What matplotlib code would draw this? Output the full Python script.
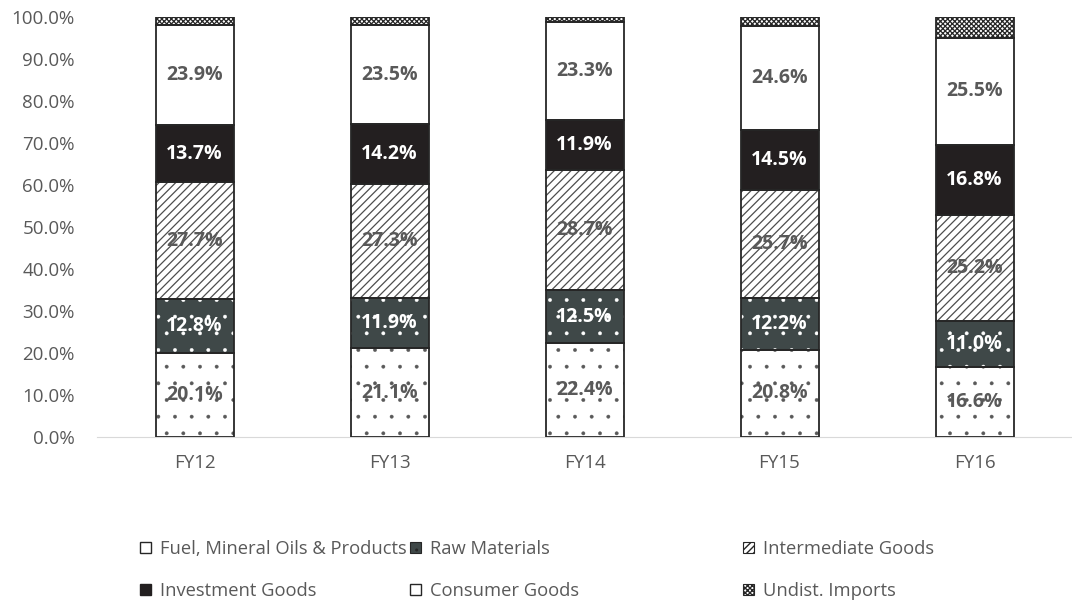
import numpy as np
import matplotlib
matplotlib.use("Agg")
import matplotlib.pyplot as plt
from matplotlib.patches import Patch

plt.rcParams['font.family'] = ['Open Sans', 'DejaVu Sans']

years = ['FY12', 'FY13', 'FY14', 'FY15', 'FY16']
fuel = [20.1, 21.1, 22.4, 20.8, 16.6]
raw = [12.8, 11.9, 12.5, 12.2, 11.0]
intermediate = [27.7, 27.3, 28.7, 25.7, 25.2]
investment = [13.7, 14.2, 11.9, 14.5, 16.8]
consumer = [23.9, 23.5, 23.3, 24.6, 25.5]
undist = [1.8, 2.0, 1.2, 2.2, 4.9]

names = ['Fuel, Mineral Oils & Products', 'Raw Materials', 'Intermediate Goods',
         'Investment Goods', 'Consumer Goods', 'Undist. Imports']
series = [fuel, raw, intermediate, investment, consumer, undist]
# face colour, hatch, hatch colour, hatch width, label colour
styles = [
    ('white', '.', '#595959', 0.3, '#595959'),
    ('#3f4848', '.', 'white', 0.3, 'white'),
    ('white', '////', '#4d4d4d', 0.9, '#595959'),
    ('#231f20', '', '#231f20', 0.5, 'white'),
    ('white', '', 'white', 0.5, '#595959'),
    ('white', 'xxxxxxx', '#262626', 0.9, None),
]
grey = '#595959'

fig = plt.figure(figsize=(10.72, 6.06), dpi=100)
ax = fig.add_axes([97/1072, 1-437/606, 975/1072, 420/606])

x = np.arange(len(years))
w = 0.4
bottom = np.zeros(len(years))
for vals, (fc, hatch, hc, hw, lc) in zip(series, styles):
    vals = np.array(vals)
    with plt.rc_context({'hatch.linewidth': hw}):
        ax.bar(x, vals, w, bottom=bottom, color=fc, hatch=hatch, edgecolor=hc, linewidth=0, zorder=2)
    ax.bar(x, vals, w, bottom=bottom, fill=False, edgecolor='#262626', linewidth=1.3, zorder=3)
    if lc is not None:
        for xi, b, v in zip(x, bottom, vals):
            ax.text(xi, b + v/2, f'{v:.1f}%', ha='center', va='center',
                    fontsize=14, fontweight='bold', color=lc, zorder=4)
    bottom += vals

ax.set_xlim(-0.5, 4.5)
ax.set_ylim(0, 100)
ax.set_yticks(np.arange(0, 101, 10))
ax.set_yticklabels([f'{t:.1f}%' for t in np.arange(0, 101, 10)])
ax.set_xticks(x)
ax.set_xticklabels(years)
ax.tick_params(axis='both', length=0, labelsize=13.5, colors=grey)
ax.tick_params(axis='y', pad=16)
ax.tick_params(axis='x', pad=12)
for s in ['top', 'right', 'left']:
    ax.spines[s].set_visible(False)
ax.spines['bottom'].set_color('#d9d9d9')
ax.spines['bottom'].set_zorder(1)

with plt.rc_context({'hatch.linewidth': 0.6}):
    handles = [
        Patch(facecolor='white', edgecolor='#262626', linewidth=1),
        Patch(facecolor='#3f4848', hatch='..', edgecolor='#262626', linewidth=0.8),
        Patch(facecolor='white', hatch='/////', edgecolor='#262626', linewidth=0.8),
        Patch(facecolor='#231f20', edgecolor='#231f20'),
        Patch(facecolor='white', edgecolor='#262626', linewidth=1),
        Patch(facecolor='white', hatch='xxxxxxx', edgecolor='#262626', linewidth=0.8),
    ]

col_x = [140/1072, 410/1072, 743/1072]
for c in range(3):
    fig.legend([handles[c], handles[c+3]], [names[c], names[c+3]],
               loc='upper left', bbox_to_anchor=(col_x[c], 1-540/606),
               frameon=False, fontsize=13.2, labelcolor=grey,
               handlelength=0.6, handleheight=0.6, handletextpad=0.5,
               labelspacing=1.3, borderpad=0, borderaxespad=0)

fig.savefig('out.png', dpi=100)
